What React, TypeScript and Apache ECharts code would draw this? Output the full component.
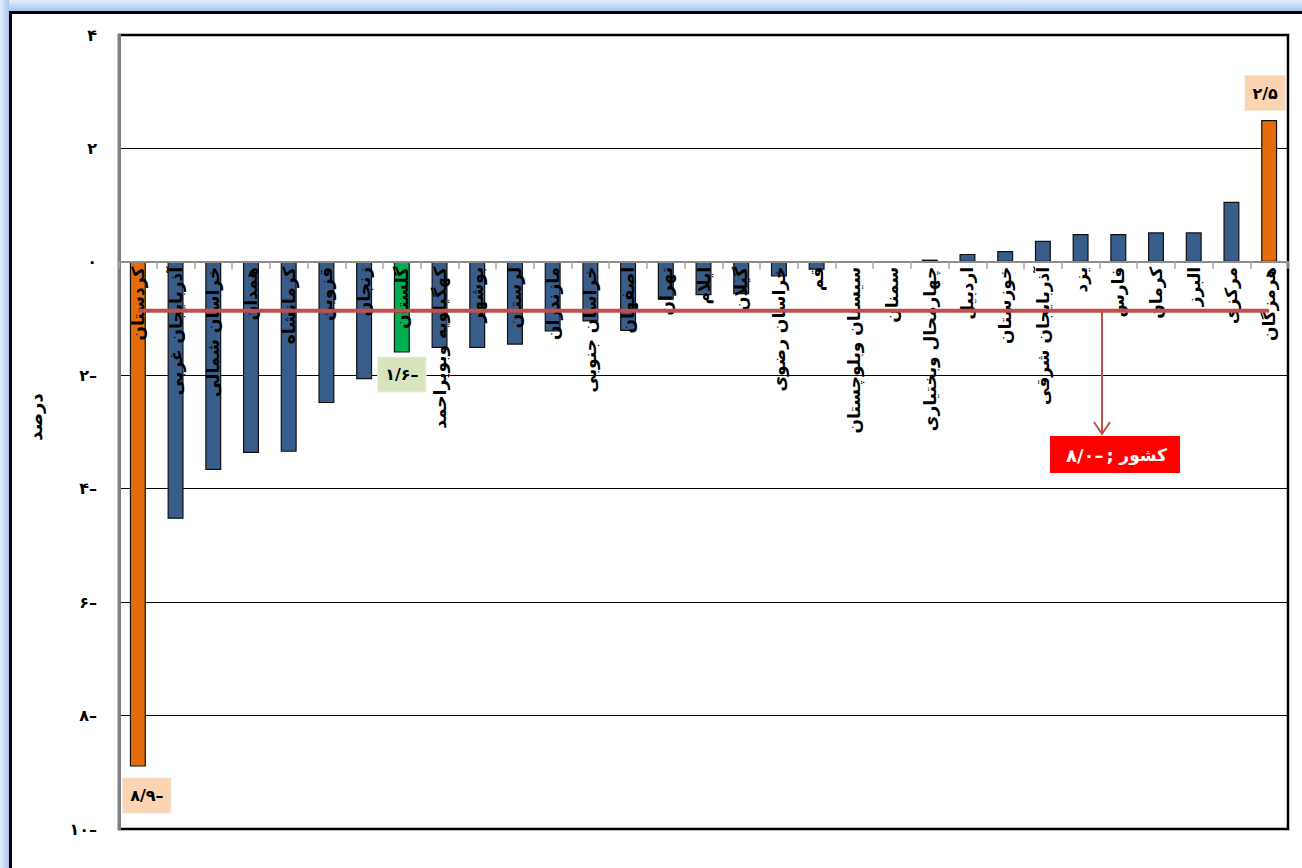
import React, { useEffect, useRef } from "react";
import * as echarts from "echarts";

const categories = [
  "کردستان", "آذربایجان غربی", "خراسان شمالی", "همدان", "کرمانشاه", "قزوین", "زنجان", "گلستان",
  "کهگیلویه وبویراحمد", "بوشهر", "لرستان", "مازندران", "خراسان جنوبی", "اصفهان", "تهران", "ایلام",
  "گیلان", "خراسان رضوی", "قم", "سیستان وبلوچستان", "سمنان", "چهارمحال وبختیاری", "اردبیل", "خوزستان",
  "آذربایجان شرقی", "یزد", "فارس", "کرمان", "البرز", "مرکزی", "هرمزگان",
];
const values = [
  -8.9, -4.53, -3.67, -3.37, -3.35, -2.49, -2.07, -1.6,
  -1.52, -1.52, -1.46, -1.23, -1.05, -1.22, -0.67, -0.59,
  -0.57, -0.26, -0.14, -0.02, -0.01, 0.04, 0.14, 0.19,
  0.37, 0.49, 0.49, 0.52, 0.52, 1.06, 2.5,
];
const countryAvg = -0.86;
const countryValueText = "۸/۰–";
const countryName = "کشور";
const focusIndex = 7;
const yMin = -10;
const yMax = 4;
const yInterval = 2;
const yName = "درصد";

const FA = ["۰", "۱", "۲", "۳", "۴", "۵", "۶", "۷", "۸", "۹"];
const toFa = (s: string) => s.replace(/[0-9]/g, (d) => FA[+d]).replace(".", "/");
const faNum = (v: number) => (v < 0 ? toFa(String(Math.abs(v))) + "–" : toFa(String(v)));

const FONT = "DejaVu Sans";

// grid geometry (px)
const GRID_LEFT = 119;
const GRID_TOP = 35;
const GRID_RIGHT = 14;
const GRID_BOTTOM = 39;
const CH = 868;

export default function App() {
  const ref = useRef<HTMLDivElement>(null);
  useEffect(() => {
    document.body.style.margin = "0";
    const chart = echarts.init(ref.current!, null, { renderer: "svg" });
    const minV = Math.min(...values);
    const maxV = Math.max(...values);
    const plotH = CH - GRID_TOP - GRID_BOTTOM;
    // distance of zero line from the grid bottom, derived from the axis range
    const zeroFromBottom = ((0 - yMin) / (yMax - yMin)) * plotH;

    const data = values.map((v, i) => {
      const isExt = v === minV || v === maxV;
      const isFocus = i === focusIndex;
      const color = isExt ? "#E46C0A" : isFocus ? "#00B050" : "#385D8A";
      const item: any = { value: v, itemStyle: { color } };
      if (isExt || isFocus) {
        item.label = {
          show: true,
          position: v < 0 ? "bottom" : "top",
          distance: isFocus ? 5 : 10,
          offset: isExt && v < 0 ? [9, 2] : isExt ? [-4, 0] : [0, 0],
          formatter: () => faNum(v),
          backgroundColor: isFocus ? "#D7E4BD" : "#FBD4B4",
          borderColor: isFocus ? "#EBF1DE" : "#F2E8DA",
          borderWidth: 1,
          padding: [9, 7, 9, 7],
          color: "#000",
          fontWeight: "bold",
          fontSize: 16,
          fontFamily: FONT,
        };
      }
      return item;
    });

    chart.setOption({
      animation: false,
      backgroundColor: "#fff",
      grid: {
        left: GRID_LEFT,
        top: GRID_TOP,
        right: GRID_RIGHT,
        bottom: GRID_BOTTOM,
        outerBoundsMode: "none",
        containLabel: false,
        show: true,
        borderColor: "#000",
        borderWidth: 2.5,
        backgroundColor: "transparent",
      },
      xAxis: {
        type: "category",
        data: categories,
        position: "bottom",
        offset: -zeroFromBottom,
        z: 5,
        axisLine: { onZero: false, lineStyle: { color: "#8C8C8C", width: 2 } },
        axisTick: { show: true, length: 7, lineStyle: { color: "#A6A6A6", width: 1.5 } },
        axisLabel: {
          interval: 0,
          rotate: 90,
          margin: 5,
          color: "#000",
          fontSize: 17,
          fontWeight: "bold",
          fontFamily: FONT,
          hideOverlap: false,
        },
      },
      yAxis: {
        type: "value",
        min: yMin,
        max: yMax,
        interval: yInterval,
        name: yName,
        nameLocation: "middle",
        nameRotate: 90,
        nameGap: 75,
        nameTextStyle: {
          color: "#000",
          fontSize: 18,
          fontWeight: "bold",
          fontFamily: FONT,
          padding: [0, 0, 0, 30],
        },
        axisLine: { show: true, lineStyle: { color: "#7F7F7F", width: 3 } },
        axisTick: { show: false },
        splitLine: { lineStyle: { color: "#000", width: 1.2 } },
        axisLabel: {
          margin: 22,
          color: "#000",
          fontSize: 16,
          fontWeight: "bold",
          fontFamily: FONT,
          formatter: (v: number) => faNum(v),
        },
      },
      series: [
        {
          type: "bar",
          data,
          barWidth: 16,
          z: 2,
          itemStyle: { borderColor: "#111", borderWidth: 1.2 },
        },
        {
          type: "line",
          data: categories.map(() => countryAvg),
          symbol: "none",
          z: 10,
          lineStyle: { color: "#C0504D", width: 4 },
        },
      ],
      graphic: [
        {
          type: "rect",
          shape: { x: 0, y: 0, width: 1302, height: 11 },
          style: {
            fill: new echarts.graphic.LinearGradient(0, 0, 0, 1, [
              { offset: 0, color: "#E4EEFB" },
              { offset: 1, color: "#A9C6EE" },
            ]),
          },
          silent: true,
        },
        {
          type: "rect",
          shape: { x: 0, y: 0, width: 9, height: 868 },
          style: {
            fill: new echarts.graphic.LinearGradient(0, 0, 1, 0, [
              { offset: 0, color: "#E4EEFB" },
              { offset: 1, color: "#A9C6EE" },
            ]),
          },
          silent: true,
        },
        {
          type: "polyline",
          shape: { points: [[10.5, 868], [10.5, 12.5], [1302, 12.5]] },
          style: { stroke: "#000", lineWidth: 3, fill: null },
          silent: true,
        },
        {
          type: "line",
          shape: { x1: 1102, y1: 311, x2: 1102, y2: 434 },
          style: { stroke: "#C0504D", lineWidth: 2 },
          z: 20,
        },
        {
          type: "polyline",
          shape: { points: [[1094, 422], [1102, 434], [1110, 422]] },
          style: { stroke: "#C0504D", lineWidth: 2, fill: null },
          z: 20,
        },
        {
          type: "rect",
          shape: { x: 1050, y: 436, width: 130, height: 37 },
          style: { fill: "#FF0000" },
          z: 20,
        },
        {
          type: "text",
          x: 1066,
          y: 455,
          style: {
            text: countryValueText,
            fill: "#fff",
            font: `bold 18px "${FONT}"`,
            align: "left",
            verticalAlign: "middle",
          },
          z: 21,
        },
        {
          type: "text",
          x: 1110,
          y: 455,
          style: {
            text: ";",
            fill: "#fff",
            font: `bold 18px "${FONT}"`,
            align: "center",
            verticalAlign: "middle",
          },
          z: 21,
        },
        {
          type: "text",
          x: 1167,
          y: 455,
          style: {
            text: countryName,
            fill: "#fff",
            font: `bold 17px "${FONT}"`,
            align: "right",
            verticalAlign: "middle",
          },
          z: 21,
        },
      ],
    });
    return () => chart.dispose();
  }, []);
  return <div ref={ref} style={{ width: 1302, height: 868 }} />;
}
